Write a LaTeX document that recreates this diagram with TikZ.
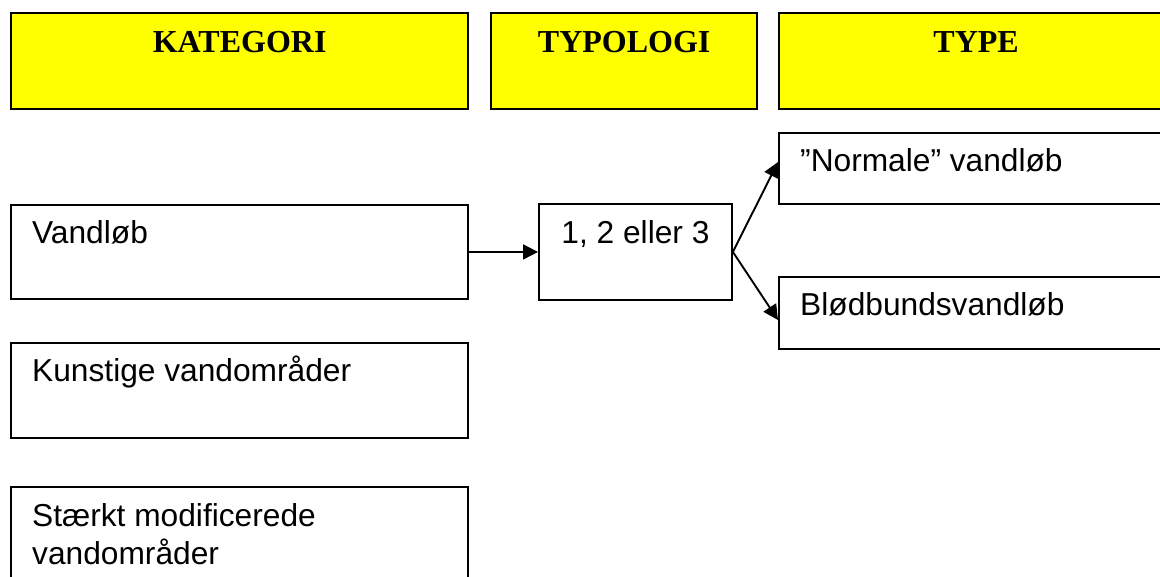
\documentclass[tikz,border=0pt]{standalone}
\usepackage{fontspec}
\setmainfont{Liberation Sans}
\newfontfamily\headfont{Liberation Serif}
\usetikzlibrary{arrows.meta,calc}
\definecolor{hdryellow}{RGB}{255,255,0}
\tikzset{
  frame/.style={draw=black, line width=1.9pt, anchor=north west, inner sep=0pt},
  headbox/.style={frame, fill=hdryellow, line width=2.3pt},
  boxtext/.style={anchor=base west, inner sep=0pt,
    font=\fontsize{31.7}{38}\selectfont},
  headtext/.style={anchor=base, inner sep=0pt,
    font=\headfont\bfseries\fontsize{32}{36}\selectfont},
  link/.style={draw=black, line width=1.9pt,
    -{Triangle[length=15pt,width=15pt]}}
}
\begin{document}
\begin{tikzpicture}[x=1pt,y=-1pt]
\useasboundingbox (0,0) rectangle (1160,577);

% column headings
\node[headbox, minimum width=457pt, minimum height=96pt] (hk) at (10,12) {};
\node[headbox, minimum width=266pt, minimum height=96pt] (ht) at (490,12) {};
\node[headbox, minimum width=394pt, minimum height=96pt] (hy) at (778,12) {};
\node[headtext] (hkt) at ($(hk.north)+(0,41)$) {KATEGORI};
\node[headtext] (htt) at ($(ht.north)+(0,41)$) {TYPOLOGI};
\node[headtext] (hyt) at ($(hy.north)+(0,41)$) {TYPE};

% category boxes
\node[frame, minimum width=457pt, minimum height=94pt] (vl) at (10,204) {};
\node[frame, minimum width=457pt, minimum height=95pt] (ku) at (10,342) {};
\node[frame, minimum width=457pt, minimum height=120pt] (st) at (10,486) {};
\node[boxtext] (vlt) at ($(vl.north west)+(22,40)$) {Vandløb};
\node[boxtext] (kut) at ($(ku.north west)+(22,40)$) {Kunstige vandområder};
\node[boxtext] (stt) at ($(st.north west)+(22,40)$)
  {\vtop{\hbox{Stærkt modificerede}\hbox{vandområder}}};

% typology box
\node[frame, minimum width=193pt, minimum height=96pt] (ty) at (538,203) {};
\node[boxtext, anchor=base] (tyt) at ($(ty.north)+(0,41)$) {1, 2 eller 3};

% type boxes
\node[frame, minimum width=400pt, minimum height=71pt] (nv) at (778,132) {};
\node[frame, minimum width=400pt, minimum height=72pt] (bb) at (778,276) {};
\node[boxtext] (nvt) at ($(nv.north west)+(22,40)$) {”Normale” vandløb};
\node[boxtext] (bbt) at ($(bb.north west)+(22,40)$) {Blødbundsvandløb};

% connectors
\coordinate (nvin) at ($(nv.north west)+(0,30)$);
\coordinate (bbin) at ($(bb.north west)+(0,44)$);
\draw[link] (vl.east) -- (ty.west);
\draw[link] (ty.east) -- (nvin);
\draw[link] (ty.east) -- (bbin);
\end{tikzpicture}
\end{document}
